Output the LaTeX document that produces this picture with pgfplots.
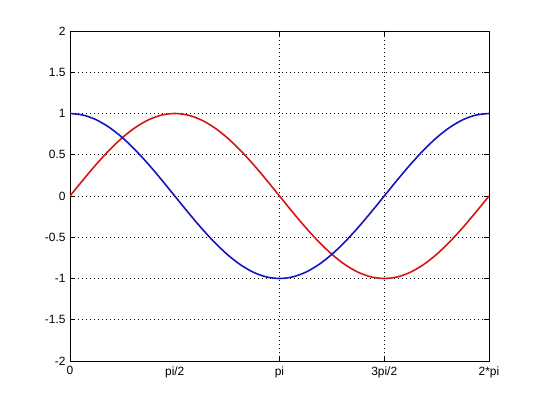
\documentclass[border=0pt]{standalone}
\usepackage{pgfplots}
\pgfplotsset{compat=1.18}
\usepackage{fontspec}
\setmainfont{Liberation Sans}
\definecolor{mred}{RGB}{215,20,20}
\definecolor{mblue}{RGB}{20,20,190}
\begin{document}
\begin{tikzpicture}
\begin{axis}[
  scale only axis,
  width=419bp, height=330bp,
  xmin=0, xmax=6.28319, ymin=-2, ymax=2,
  xtick={0,3.14159,4.71239,6.28319},
  xticklabels={0,pi,3pi/2,2*pi},
  extra x ticks={1.5708},
  extra x tick labels={pi/2},
  extra x tick style={major tick length=0pt, grid=none},
  ytick={-2,-1.5,-1,-0.5,0,0.5,1,1.5,2},
  yticklabels={-2,-1.5,-1,-0.5,0,0.5,1,1.5,2},
  tick align=inside,
  major tick length=5bp,
  tick style={black, line width=0.6pt},
  axis line style={black, line width=0.8pt},
  grid=major,
  major grid style={black, line width=0.7pt, dash pattern=on 1bp off 3bp},
  ticklabel style={font=\fontsize{12}{14}\selectfont},
  /pgf/number format/assume math mode=true,
  xticklabel shift=2bp,
  yticklabel shift=1bp,
]
\addplot[mred, line width=1.6pt, smooth] coordinates {
(0,0) (0.19635,0.19509) (0.39270,0.38268) (0.58905,0.55557) (0.78540,0.70711)
(0.98175,0.83147) (1.17810,0.92388) (1.37445,0.98079) (1.57080,1)
(1.76715,0.98079) (1.96350,0.92388) (2.15984,0.83147) (2.35619,0.70711)
(2.55254,0.55557) (2.74889,0.38268) (2.94524,0.19509) (3.14159,0)
(3.33794,-0.19509) (3.53429,-0.38268) (3.73064,-0.55557) (3.92699,-0.70711)
(4.12334,-0.83147) (4.31969,-0.92388) (4.51604,-0.98079) (4.71239,-1)
(4.90874,-0.98079) (5.10509,-0.92388) (5.30144,-0.83147) (5.49779,-0.70711)
(5.69414,-0.55557) (5.89049,-0.38268) (6.08684,-0.19509) (6.28319,0)
};
\addplot[mblue, line width=1.6pt, smooth] coordinates {
(0,1) (0.19635,0.98079) (0.39270,0.92388) (0.58905,0.83147) (0.78540,0.70711)
(0.98175,0.55557) (1.17810,0.38268) (1.37445,0.19509) (1.57080,0)
(1.76715,-0.19509) (1.96350,-0.38268) (2.15984,-0.55557) (2.35619,-0.70711)
(2.55254,-0.83147) (2.74889,-0.92388) (2.94524,-0.98079) (3.14159,-1)
(3.33794,-0.98079) (3.53429,-0.92388) (3.73064,-0.83147) (3.92699,-0.70711)
(4.12334,-0.55557) (4.31969,-0.38268) (4.51604,-0.19509) (4.71239,0)
(4.90874,0.19509) (5.10509,0.38268) (5.30144,0.55557) (5.49779,0.70711)
(5.69414,0.83147) (5.89049,0.92388) (6.08684,0.98079) (6.28319,1)
};
\end{axis}
\useasboundingbox ([shift={(-70bp,-44bp)}]current axis.south west) rectangle ([shift={(51bp,31bp)}]current axis.north east);
\end{tikzpicture}
\end{document}
